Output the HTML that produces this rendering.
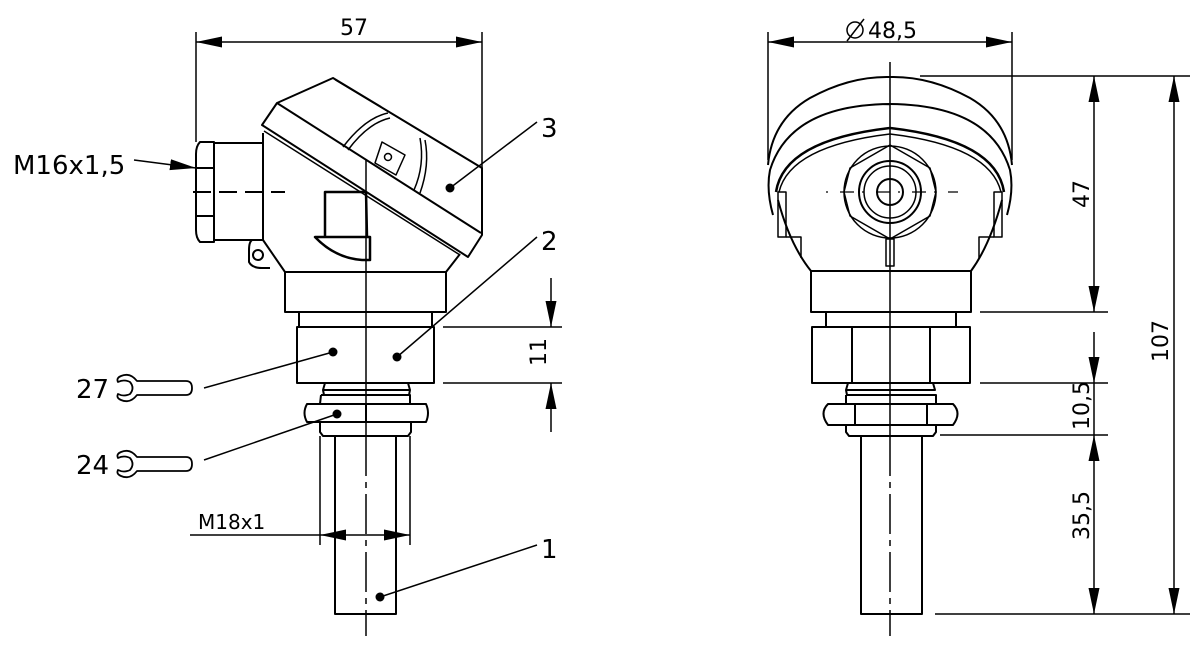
<!DOCTYPE html>
<html><head><meta charset="utf-8"><style>
html,body{margin:0;padding:0;background:#fff;}
svg{display:block;}
text{font-family:"DejaVu Sans","Liberation Sans",sans-serif;fill:#000;}
</style></head><body>
<svg width="1200" height="651" viewBox="0 0 1200 651" xmlns="http://www.w3.org/2000/svg">
<defs>
<marker id="ar" markerWidth="26" markerHeight="12" refX="26" refY="6" orient="auto" markerUnits="userSpaceOnUse">
<path d="M0,0.5 L26,6 L0,11.5 Z" fill="#000"/></marker>
<marker id="as" markerWidth="26" markerHeight="12" refX="0" refY="6" orient="auto" markerUnits="userSpaceOnUse">
<path d="M26,0.5 L0,6 L26,11.5 Z" fill="#000"/></marker>
</defs>
<g fill="none" stroke="#000" stroke-width="2" stroke-linejoin="round">

<!-- ===== LEFT VIEW ===== -->
<line x1="196" y1="32" x2="196" y2="142" stroke-width="1.5"/>
<line x1="482" y1="32" x2="482" y2="168" stroke-width="1.5"/>
<line x1="196" y1="42" x2="482" y2="42" stroke-width="1.5" marker-start="url(#as)" marker-end="url(#ar)"/>
<line x1="134" y1="160" x2="196" y2="168" stroke-width="1.5" marker-end="url(#ar)"/>
<path d="M200,142 L214,142 L214,242 L200,242 Q196,238 196,230 L196,154 Q196,146 200,142 Z"/>
<line x1="197" y1="168" x2="214" y2="168"/>
<line x1="197" y1="216" x2="214" y2="216"/>
<path d="M214,143 L263,143 M214,240 L263,240"/>
<line x1="193" y1="192" x2="285" y2="192" stroke-dasharray="18,8"/>
<path d="M263,133 L263,240 L285,272 L446,272 L460,254"/>
<path d="M263,240 L252,240 Q249,242 249,250 L249,262 Q252,268 262,268 L270,268"/>
<circle cx="258" cy="255" r="5"/>
<path d="M262,125 L277,103 L333,78 L482,168 L482,235 L468,257 Z"/>
<line x1="277" y1="103" x2="481" y2="233"/>
<line x1="264" y1="131" x2="460" y2="255" stroke-width="1.5"/>
<line x1="335" y1="80" x2="480" y2="167" stroke-width="1"/>
<path d="M343,147 Q365,118 388,113 M348,150 Q368,123 390,118" stroke-width="1.5"/>
<path d="M425,140 Q430,165 420,193 M420,138 Q425,165 414,190" stroke-width="1.5"/>
<path d="M382,142 L405,155 L396,175 L375,163 Z" stroke-width="1.5"/>
<circle cx="388" cy="157" r="3.5" stroke-width="1.5"/>
<path d="M325,237 L325,192 L366,192 L367,237" stroke-width="2.5"/>
<path d="M315,237 L370,237 L370,260 L362,260 Q335,258 315,237 Z" stroke-width="2.5"/>
<rect x="285" y="272" width="161" height="40"/>
<rect x="299" y="312" width="133" height="15"/>
<rect x="297" y="327" width="137" height="56"/>
<path d="M325,383 L323,390 L410,390 L408,383 M323,390 L324,395 L409,395 L410,390"/>
<path d="M321,395 L410,395 L410,404 M321,395 L320,404"/>
<path d="M307,404 L426,404 Q430,413 426,422 L307,422 Q302,413 307,404 Z"/>
<line x1="366" y1="404" x2="366" y2="422"/>
<path d="M320,422 L320,432 L323,436 L408,436 L411,432 L411,422"/>
<rect x="335" y="436" width="61" height="178"/>
<line x1="320" y1="436" x2="320" y2="545" stroke-width="1.5"/>
<line x1="410" y1="436" x2="410" y2="545" stroke-width="1.5"/>
<line x1="190" y1="535" x2="320" y2="535" stroke-width="1.5"/>
<line x1="320" y1="535" x2="410" y2="535" stroke-width="1.5" marker-start="url(#as)" marker-end="url(#ar)"/>
<line x1="366" y1="160" x2="366" y2="436" stroke-width="1.5"/>
<line x1="366" y1="436" x2="366" y2="636" stroke-width="1.5" stroke-dasharray="40,6,6,6"/>
<line x1="443" y1="327" x2="562" y2="327" stroke-width="1.5"/>
<line x1="443" y1="383" x2="562" y2="383" stroke-width="1.5"/>
<line x1="551" y1="278" x2="551" y2="327" stroke-width="1.5" marker-end="url(#ar)"/>
<line x1="551" y1="432" x2="551" y2="383" stroke-width="1.5" marker-end="url(#ar)"/>
<line x1="450" y1="188" x2="537" y2="122" stroke-width="1.5"/>
<line x1="397" y1="357" x2="537" y2="237" stroke-width="1.5"/>
<line x1="380" y1="597" x2="537" y2="545" stroke-width="1.5"/>
<line x1="204" y1="388" x2="333" y2="352" stroke-width="1.5"/>
<line x1="204" y1="460" x2="337" y2="414" stroke-width="1.5"/>
<!-- wrenches -->
<path d="M137,381 Q130,372 121,376 Q116,378 118,382 Q124,379 130,382 Q135,388 130,394 Q124,397 118,394 Q116,398 121,400 Q130,404 137,395 L186,395 Q192,395 192,388 Q192,381 186,381 Z" stroke-width="1.8"/>
<path d="M137,457 Q130,448 121,452 Q116,454 118,458 Q124,455 130,458 Q135,464 130,470 Q124,473 118,470 Q116,474 121,476 Q130,480 137,471 L186,471 Q192,471 192,464 Q192,457 186,457 Z" stroke-width="1.8"/>

<!-- ===== RIGHT VIEW ===== -->
<line x1="768" y1="32" x2="768" y2="160" stroke-width="1.5"/>
<line x1="1012" y1="32" x2="1012" y2="160" stroke-width="1.5"/>
<line x1="768" y1="42" x2="1012" y2="42" stroke-width="1.5" marker-start="url(#as)" marker-end="url(#ar)"/>
<path d="M768,165 Q772,120 810,98 Q850,76 890,77 Q930,76 970,98 Q1008,120 1012,165"/>
<path d="M773,215 Q766,190 770,170 Q790,105 890,104 Q990,105 1010,170 Q1014,190 1007,215"/>
<path d="M776,192 Q784,140 890,128 Q996,140 1004,192" stroke-width="2.5"/>
<path d="M779,192 Q790,146 890,134 Q990,146 1001,192" stroke-width="1.5"/>
<path d="M778,200 Q790,245 811,271 M1002,200 Q990,245 971,271"/>
<rect x="778" y="192" width="8" height="45" stroke-width="1.5"/>
<rect x="994" y="192" width="8" height="45" stroke-width="1.5"/>
<path d="M786,237 L801,237 L801,258 M994,237 L979,237 L979,258" stroke-width="1.5"/>
<polygon points="890,145 930,168 936,192 930,216 890,239 850,216 844,192 850,168" stroke-width="1.5"/>
<circle cx="890" cy="192" r="46" stroke-width="1.5"/>
<circle cx="890" cy="192" r="31"/>
<circle cx="890" cy="192" r="26" stroke-width="1.5"/>
<circle cx="890" cy="192" r="13"/>
<rect x="886" y="239" width="8" height="27" stroke-width="1.5"/>
<line x1="826" y1="192" x2="958" y2="192" stroke-width="1.2" stroke-dasharray="2,12,14,8"/>
<rect x="811" y="271" width="160" height="41"/>
<rect x="826" y="312" width="130" height="15"/>
<rect x="812" y="327" width="158" height="56"/>
<line x1="852" y1="327" x2="852" y2="383"/>
<line x1="930" y1="327" x2="930" y2="383"/>
<path d="M848,383 L846,390 L935,390 L933,383 M846,390 L847,395 L934,395"/>
<path d="M846,395 L936,395 L936,404 M846,395 L846,404"/>
<path d="M828,404 L953,404 Q962,413 953,425 L828,425 Q819,413 828,404 Z"/>
<line x1="855" y1="404" x2="855" y2="425"/>
<line x1="927" y1="404" x2="927" y2="425"/>
<path d="M846,425 L846,432 L849,436 L933,436 L936,432 L936,425"/>
<rect x="861" y="436" width="61" height="178"/>
<line x1="890" y1="62" x2="890" y2="436" stroke-width="1.5"/>
<line x1="890" y1="436" x2="890" y2="636" stroke-width="1.5" stroke-dasharray="40,6,6,6"/>
<line x1="920" y1="76" x2="1190" y2="76" stroke-width="1.5"/>
<line x1="980" y1="312" x2="1108" y2="312" stroke-width="1.5"/>
<line x1="980" y1="383" x2="1108" y2="383" stroke-width="1.5"/>
<line x1="940" y1="435" x2="1108" y2="435" stroke-width="1.5"/>
<line x1="935" y1="614" x2="1190" y2="614" stroke-width="1.5"/>
<line x1="1094" y1="76" x2="1094" y2="312" stroke-width="1.5" marker-start="url(#as)" marker-end="url(#ar)"/>
<line x1="1094" y1="332" x2="1094" y2="383" stroke-width="1.5" marker-end="url(#ar)"/>
<line x1="1094" y1="383" x2="1094" y2="435" stroke-width="1.5"/>
<line x1="1094" y1="435" x2="1094" y2="614" stroke-width="1.5" marker-start="url(#as)" marker-end="url(#ar)"/>
<line x1="1174" y1="76" x2="1174" y2="614" stroke-width="1.5" marker-start="url(#as)" marker-end="url(#ar)"/>
<circle cx="855" cy="30" r="8" stroke-width="1.5"/>
<line x1="847" y1="41" x2="864" y2="19" stroke-width="1.5"/>
</g>
<g fill="#000">
<circle cx="450" cy="188" r="4.5"/>
<circle cx="397" cy="357" r="4.5"/>
<circle cx="380" cy="597" r="4.5"/>
<circle cx="333" cy="352" r="4.5"/>
<circle cx="337" cy="414" r="4.5"/>
</g>
<g font-size="24">
<text x="340" y="35" font-size="22">57</text>
<text x="868" y="38" font-size="22">48,5</text>
<text x="13" y="174" font-size="26">M16x1,5</text>
<text x="541" y="137" font-size="26">3</text>
<text x="541" y="250" font-size="26">2</text>
<text x="541" y="558" font-size="26">1</text>
<text x="76" y="398" font-size="26">27</text>
<text x="76" y="474" font-size="26">24</text>
<text x="198" y="529" font-size="20">M18x1</text>
<text transform="translate(546,366) rotate(-90)" font-size="22">11</text>
<text transform="translate(1089,208) rotate(-90)" font-size="22">47</text>
<text transform="translate(1089,430) rotate(-90)" font-size="22">10,5</text>
<text transform="translate(1089,540) rotate(-90)" font-size="22">35,5</text>
<text transform="translate(1168,362) rotate(-90)" font-size="22">107</text>
</g>
</svg>
</body></html>
